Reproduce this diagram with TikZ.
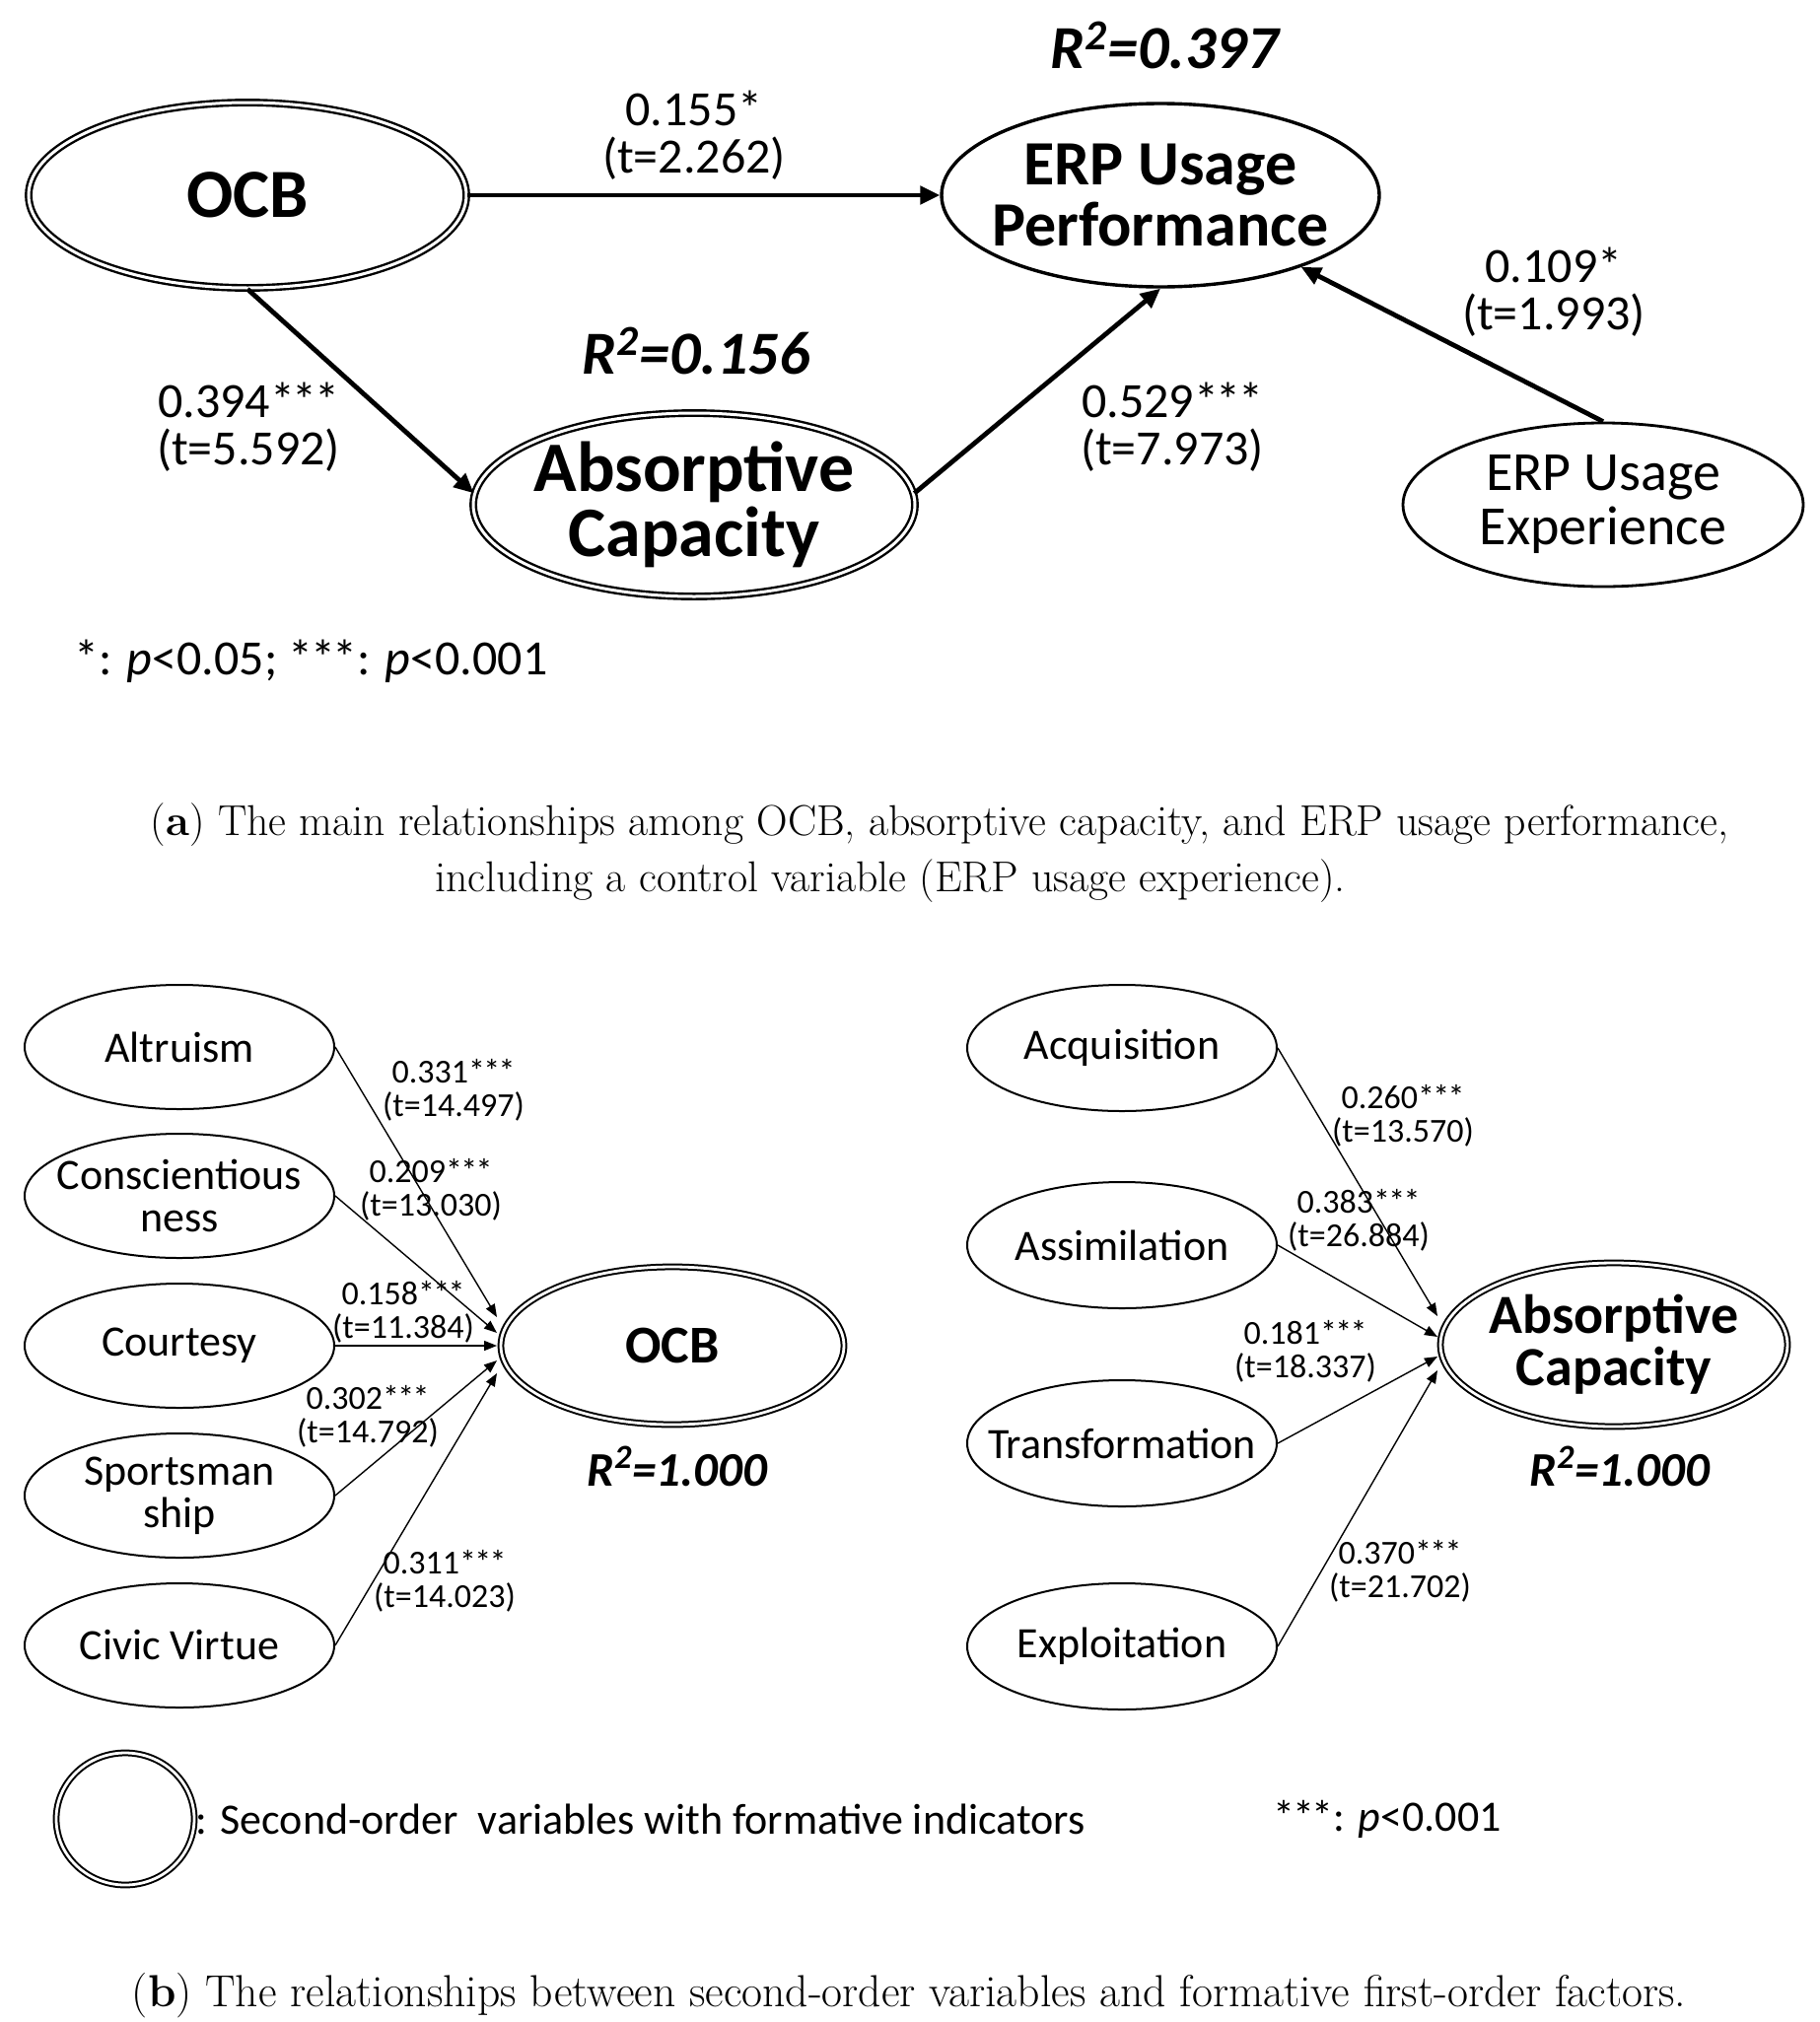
\documentclass[tikz,border=0pt]{standalone}
\usepackage{fontspec}
\newfontfamily\carl{Carlito}
\usetikzlibrary{arrows.meta,shapes.geometric,calc}
\newcommand{\fsz}[2]{\fontsize{#1}{#2}\selectfont}
\newcommand{\sss}{*\kern-0.05em*\kern-0.05em*}
\begin{document}
\begin{tikzpicture}[x=0.5pt,y=-0.5pt,
  every node/.style={inner sep=0pt},
  ell/.style={ellipse, draw, line width=1pt, inner xsep=-60pt, inner ysep=-10pt, align=center},
  dbl/.style={ellipse, draw, double, double distance=1.5pt, line width=1.2pt, inner xsep=-60pt, inner ysep=-10pt, align=center},
  sdbl/.style={ellipse, draw, double, double distance=1.4pt, line width=1pt, inner xsep=-60pt, inner ysep=-10pt, align=center},
  bigarr/.style={line width=2.4pt, -{Triangle[length=10pt,width=9pt]}},
  smarr/.style={line width=0.7pt, -{Triangle[length=6.5pt,width=5pt]}},
  coef/.style={font=\carl\fsz{25}{24}, align=center},
  scoef/.style={font=\carl\fsz{17}{17}, align=center},
  rsq/.style={font=\carl\bfseries\itshape\fsz{31}{31}},
  srsq/.style={font=\carl\bfseries\itshape\fsz{24.5}{24}},
  capt/.style={font=\fsz{21.9}{26}},
]
\useasboundingbox[fill=white] (0,0) rectangle (1846,2051);

% ---------- (a) ----------
\node[dbl, minimum width=222pt, minimum height=94pt, font=\carl\bfseries\fsz{35}{35}] (ocb) at (251,198) {OCB};
\node[ell, line width=1.7pt, minimum width=222pt, minimum height=93pt, font=\carl\bfseries\fsz{32}{31}] (erp) at (1177,198) {ERP Usage\\Performance};
\node[dbl, minimum width=224pt, minimum height=93pt, font=\carl\bfseries\fsz{36}{33}] (ac) at (704,512) {Absorptive\\Capacity};
\node[ell, line width=1.4pt, minimum width=203pt, minimum height=83pt, font=\carl\fsz{28}{27.5}] (exp) at (1626,512) {ERP Usage\\Experience};

\draw[bigarr] (ocb.east) -- (erp.west);
\draw[bigarr] (ocb.south) -- (ac.177);
\draw[bigarr] (ac.3) -- (erp.south);
\draw[bigarr] (exp.north) -- (erp);

\node[coef] (l1) at (704,137) {0.155*\\(t=2.262)};
\node[coef] (l2) at (252,433) {0.394\sss\\(t=5.592)};
\node[coef] (l3) at (1189,433) {0.529\sss\\(t=7.973)};
\node[coef] (l4) at (1576,296) {0.109*\\(t=1.993)};
\node[rsq] (r1) at (1181,46) {R\textsuperscript{2}=0.397};
\node[rsq] (r2) at (706,356) {R\textsuperscript{2}=0.156};
\node[font=\carl\fsz{25}{25}, anchor=west] (fn1) at (75,671) {*: \textit{p}<0.05; \sss: \textit{p}<0.001};

\node[capt] (capa1) at (953,837) {(\textbf{a}) The main relationships among OCB, absorptive capacity, and ERP usage performance,};
\node[capt] (capa2) at (903,894) {including a control variable (ERP usage experience).};

% ---------- (b) left ----------
\node[ell, minimum width=157pt, minimum height=63pt, font=\carl\fsz{22}{21.5}] (alt) at (182,1062) {Altruism};
\node[ell, minimum width=157pt, minimum height=63pt, font=\carl\fsz{22}{21.5}] (con) at (182,1213) {Conscientious\\ness};
\node[ell, minimum width=157pt, minimum height=63pt, font=\carl\fsz{22}{21.5}] (cou) at (182,1365) {Courtesy};
\node[ell, minimum width=157pt, minimum height=63pt, font=\carl\fsz{22}{21.5}] (spo) at (182,1517) {Sportsman\\ship};
\node[ell, minimum width=157pt, minimum height=63pt, font=\carl\fsz{22}{21.5}] (civ) at (182,1669) {Civic Virtue};
\node[sdbl, minimum width=174pt, minimum height=80pt, font=\carl\bfseries\fsz{27}{27}] (ocb2) at (682,1365) {OCB};

\coordinate (o1) at ($(ocb2.west)+(-3,-29)$);
\coordinate (o2) at ($(ocb2.west)+(-3,-13)$);
\coordinate (o3) at ($(ocb2.west)+(-3,0)$);
\coordinate (o4) at ($(ocb2.west)+(-3,15)$);
\coordinate (o5) at ($(ocb2.west)+(-3,28)$);
\draw[smarr] (alt.east) -- (o1);
\draw[smarr] (con.east) -- (o2);
\draw[smarr] (cou.east) -- (o3);
\draw[smarr] (spo.east) -- (o4);
\draw[smarr] (civ.east) -- (o5);

\node[scoef] (b1) at (460,1106) {0.331\sss\\(t=14.497)};
\node[scoef] (b2) at (437,1207) {0.209\sss\\(t=13.030)};
\node[scoef] (b3) at (409,1331) {0.158\sss\\(t=11.384)};
\node[scoef] (b4) at (373,1437) {0.302\sss\\(t=14.792)};
\node[scoef] (b5) at (451,1604) {0.311\sss\\(t=14.023)};
\node[srsq] (r3) at (687,1487) {R\textsuperscript{2}=1.000};

% ---------- (b) right ----------
\node[ell, minimum width=157pt, minimum height=64pt, font=\carl\fsz{22}{21.5}] (acq) at (1138,1063) {Acquisition};
\node[ell, minimum width=157pt, minimum height=64pt, font=\carl\fsz{22}{21.5}] (ass) at (1138,1263) {Assimilation};
\node[ell, minimum width=157pt, minimum height=64pt, font=\carl\fsz{22}{21.5}] (tra) at (1138,1464) {Transformation};
\node[ell, minimum width=157pt, minimum height=64pt, font=\carl\fsz{22}{21.5}] (exl) at (1138,1670) {Exploitation};
\node[sdbl, minimum width=176pt, minimum height=83pt, font=\carl\bfseries\fsz{28}{26.5}] (ac2) at (1637,1364) {Absorptive\\Capacity};

\coordinate (a1) at ($(ac2.west)+(-2,-29)$);
\coordinate (a2) at ($(ac2.west)+(-2,-8)$);
\coordinate (a3) at ($(ac2.west)+(-2,12)$);
\coordinate (a4) at ($(ac2.west)+(-2,26)$);
\draw[smarr] (acq.east) -- (a1);
\draw[smarr] (ass.east) -- (a2);
\draw[smarr] (tra.east) -- (a3);
\draw[smarr] (exl.east) -- (a4);

\node[scoef] (c1) at (1423,1132) {0.260\sss\\(t=13.570)};
\node[scoef] (c2) at (1378,1238) {0.383\sss\\(t=26.884)};
\node[scoef] (c3) at (1324,1371) {0.181\sss\\(t=18.337)};
\node[scoef] (c4) at (1420,1594) {0.370\sss\\(t=21.702)};
\node[srsq] (r4) at (1643,1487) {R\textsuperscript{2}=1.000};

% ---------- legend ----------
\node[sdbl, minimum width=70pt, minimum height=67pt] (leg) at (127,1845) {};
\node[font=\carl\fsz{22}{22}, anchor=west] (legt) at (leg.east) {: Second-order\ \ variables with formative indicators};
\node[font=\carl\fsz{22}{22}, anchor=west] (legp) at (1291,1845) {\sss: \textit{p}<0.001};

\node[capt, font=\fsz{22.8}{26}] (capb) at (922,2024) {(\textbf{b}) The relationships between second-order variables and formative first-order factors.};
\end{tikzpicture}
\end{document}
